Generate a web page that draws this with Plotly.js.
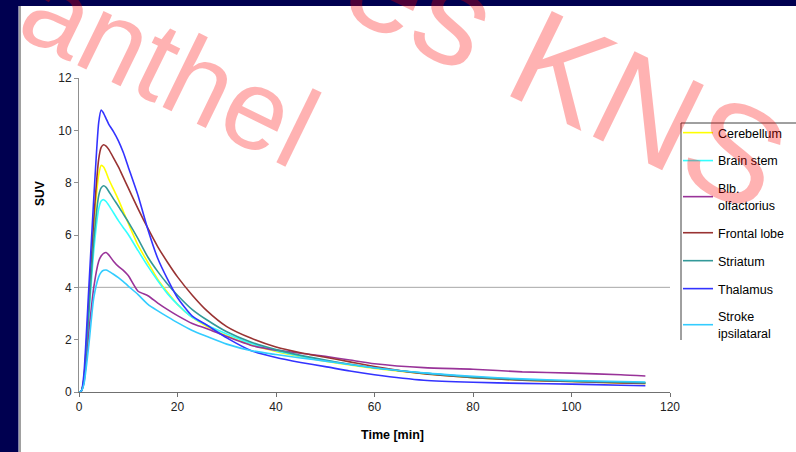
<!DOCTYPE html>
<html>
<head>
<meta charset="utf-8">
<script src="https://cdn.plot.ly/plotly-3.0.1.min.js"></script>
<style>
  html, body { margin: 0; padding: 0; background: #ffffff; }
  #chart { width: 796px; height: 452px; }
</style>
</head>
<body>
<div id="chart"></div>
<script>
// Time axis (min)
const time = [0, 0.5, 1, 2, 3, 4, 4.5, 5, 5.5, 6, 7, 8, 9, 10, 12, 14, 16, 18, 20, 23, 26, 30, 35, 40, 45, 50, 55, 60, 70, 80, 90, 100, 110, 115];

// SUV series
const cerebellum = [0, 0.05, 0.5, 3.3, 6.3, 8.3, 8.66, 8.6, 8.4, 8.15, 7.75, 7.35, 6.9, 6.45, 5.6, 4.95, 4.3, 3.8, 3.35, 2.85, 2.5, 2.15, 1.8, 1.55, 1.35, 1.18, 1.03, 0.9, 0.7, 0.55, 0.45, 0.4, 0.35, 0.33];
const brainStem = [0, 0.05, 0.4, 2.9, 5.4, 7.0, 7.3, 7.35, 7.28, 7.15, 6.85, 6.55, 6.28, 6.02, 5.4, 4.8, 4.25, 3.75, 3.35, 2.85, 2.55, 2.22, 1.85, 1.58, 1.37, 1.2, 1.05, 0.92, 0.72, 0.57, 0.47, 0.41, 0.37, 0.35];
const blbOlfactorius = [0, 0.05, 0.35, 2.3, 4.0, 5.0, 5.2, 5.3, 5.33, 5.25, 5.0, 4.8, 4.65, 4.45, 3.85, 3.68, 3.4, 3.15, 2.92, 2.62, 2.42, 2.12, 1.78, 1.6, 1.48, 1.36, 1.22, 1.08, 0.93, 0.87, 0.77, 0.72, 0.66, 0.61];
const frontalLobe = [0, 0.05, 0.5, 3.4, 6.6, 8.9, 9.35, 9.45, 9.4, 9.28, 8.95, 8.6, 8.2, 7.8, 7.0, 6.25, 5.55, 4.95, 4.4, 3.7, 3.1, 2.5, 2.05, 1.72, 1.5, 1.33, 1.15, 0.97, 0.7, 0.55, 0.45, 0.4, 0.35, 0.33];
const striatum = [0, 0.05, 0.45, 3.1, 5.8, 7.5, 7.8, 7.88, 7.82, 7.68, 7.38, 7.1, 6.8, 6.5, 5.85, 5.15, 4.6, 4.12, 3.7, 3.15, 2.75, 2.3, 1.9, 1.62, 1.4, 1.22, 1.06, 0.93, 0.72, 0.57, 0.47, 0.41, 0.37, 0.35];
const thalamus = [0, 0.05, 0.7, 4.0, 7.4, 10.3, 10.78, 10.65, 10.45, 10.25, 9.95, 9.6, 9.15, 8.6, 7.5, 6.2, 5.1, 4.3, 3.6, 2.9, 2.55, 2.07, 1.58, 1.32, 1.13, 0.97, 0.8, 0.66, 0.45, 0.37, 0.33, 0.3, 0.26, 0.24];
const strokeIpsi = [0, 0.05, 0.3, 1.8, 3.6, 4.4, 4.58, 4.65, 4.66, 4.62, 4.5, 4.37, 4.22, 4.05, 3.72, 3.35, 3.1, 2.87, 2.65, 2.35, 2.12, 1.83, 1.58, 1.43, 1.3, 1.18, 1.05, 0.93, 0.73, 0.6, 0.5, 0.44, 0.4, 0.38];

const seriesNames = ['Cerebellum', 'Brain stem', 'Blb.<br>olfactorius', 'Frontal lobe', 'Striatum', 'Thalamus', 'Stroke<br>ipsilataral'];
const seriesValues = [cerebellum, brainStem, blbOlfactorius, frontalLobe, striatum, thalamus, strokeIpsi];
const seriesColors = ['#FFFF00', '#33FFFF', '#993399', '#993333', '#339999', '#3333FF', '#33CCFF'];

const xTicks = [0, 20, 40, 60, 80, 100, 120];
const yTicks = [0, 2, 4, 6, 8, 10, 12];

const FONT = 'Liberation Sans, Arial, Helvetica, sans-serif';

const traces = seriesNames.map((name, i) => ({
  type: 'scatter',
  mode: 'lines',
  name: name,
  x: time,
  y: seriesValues[i],
  legendgroup: 'g' + i,
  line: { color: seriesColors[i], width: 1.6, shape: 'spline', smoothing: 0.6 }
}));

// pixel helpers for paper coordinates (plot area: x 79..670, y 78..392)
const px = p => (p - 79) / 591;
const py = p => (392 - p) / 314;

const layout = {
  width: 796,
  height: 452,
  margin: { l: 79, r: 126, t: 78, b: 60, autoexpand: false },
  paper_bgcolor: '#ffffff',
  plot_bgcolor: '#ffffff',
  font: { family: FONT, size: 12, color: '#000000' },
  showlegend: true,
  legend: {
    x: px(678), xanchor: 'left',
    y: py(118), yanchor: 'top',
    bgcolor: 'rgba(0,0,0,0)',
    borderwidth: 0,
    traceorder: 'grouped',
    tracegroupgap: 8.7,
    font: { family: FONT, size: 12.5, color: '#000000' }
  },
  xaxis: {
    range: [0, 120],
    tickvals: xTicks,
    ticktext: xTicks.map(String),
    showgrid: false,
    zeroline: false,
    showline: true,
    linecolor: '#707070',
    linewidth: 1,
    ticks: 'outside',
    ticklen: 4,
    tickcolor: '#707070',
    tickfont: { family: FONT, size: 12, color: '#222222' }
  },
  yaxis: {
    range: [0, 12],
    tickvals: yTicks,
    ticktext: yTicks.map(String),
    showgrid: false,
    zeroline: false,
    showline: true,
    linecolor: '#909090',
    linewidth: 1,
    ticks: 'outside',
    ticklen: 4,
    tickcolor: '#909090',
    tickfont: { family: FONT, size: 12, color: '#222222' }
  },
  shapes: [
    // single horizontal reference line at SUV 4
    { type: 'line', xref: 'x', yref: 'y', x0: 0, x1: 120, y0: 4, y1: 4, layer: 'below',
      line: { color: '#A8A8A8', width: 1 } },
    // navy frame (left and top)
    { type: 'rect', xref: 'paper', yref: 'paper', x0: px(-5), x1: px(18.5), y0: py(460), y1: py(-5),
      fillcolor: '#000050', line: { width: 0 }, layer: 'below' },
    { type: 'rect', xref: 'paper', yref: 'paper', x0: px(-5), x1: px(800), y0: py(6), y1: py(-5),
      fillcolor: '#000050', line: { width: 0 }, layer: 'below' },
    { type: 'line', xref: 'paper', yref: 'paper', x0: px(20), x1: px(20), y0: py(460), y1: py(6),
      line: { color: '#A0A0A0', width: 2 }, layer: 'below' },
    // legend frame (left and top edges visible)
    { type: 'line', xref: 'paper', yref: 'paper', x0: px(681), x1: px(681), y0: py(340), y1: py(123),
      line: { color: '#404040', width: 1 } },
    { type: 'line', xref: 'paper', yref: 'paper', x0: px(681), x1: px(800), y0: py(123), y1: py(123),
      line: { color: '#404040', width: 1 } }
  ],
  annotations: [
    { text: '<b>Time [min]</b>', xref: 'paper', yref: 'paper', x: px(392), y: py(435),
      xanchor: 'center', yanchor: 'middle', showarrow: false,
      font: { family: FONT, size: 12.5, color: '#000000' } },
    { text: '<b>SUV</b>', xref: 'paper', yref: 'paper', x: px(40), y: py(194),
      xanchor: 'center', yanchor: 'middle', showarrow: false, textangle: -90,
      font: { family: FONT, size: 12, color: '#000000' } },
    // watermark
    { text: 'anthel', xref: 'paper', yref: 'paper', x: px(170), y: py(66),
      xanchor: 'center', yanchor: 'middle', showarrow: false, textangle: 26,
      font: { family: FONT, size: 114, color: 'rgba(255,0,0,0.3)' } },
    { text: 'es KNS', xref: 'paper', yref: 'paper', x: px(566), y: py(70),
      xanchor: 'center', yanchor: 'middle', showarrow: false, textangle: 26,
      font: { family: FONT, size: 138, color: 'rgba(255,0,0,0.3)' } }
  ]
};

Plotly.newPlot('chart', traces, layout, { displayModeBar: false, staticPlot: true });
</script>
</body>
</html>
